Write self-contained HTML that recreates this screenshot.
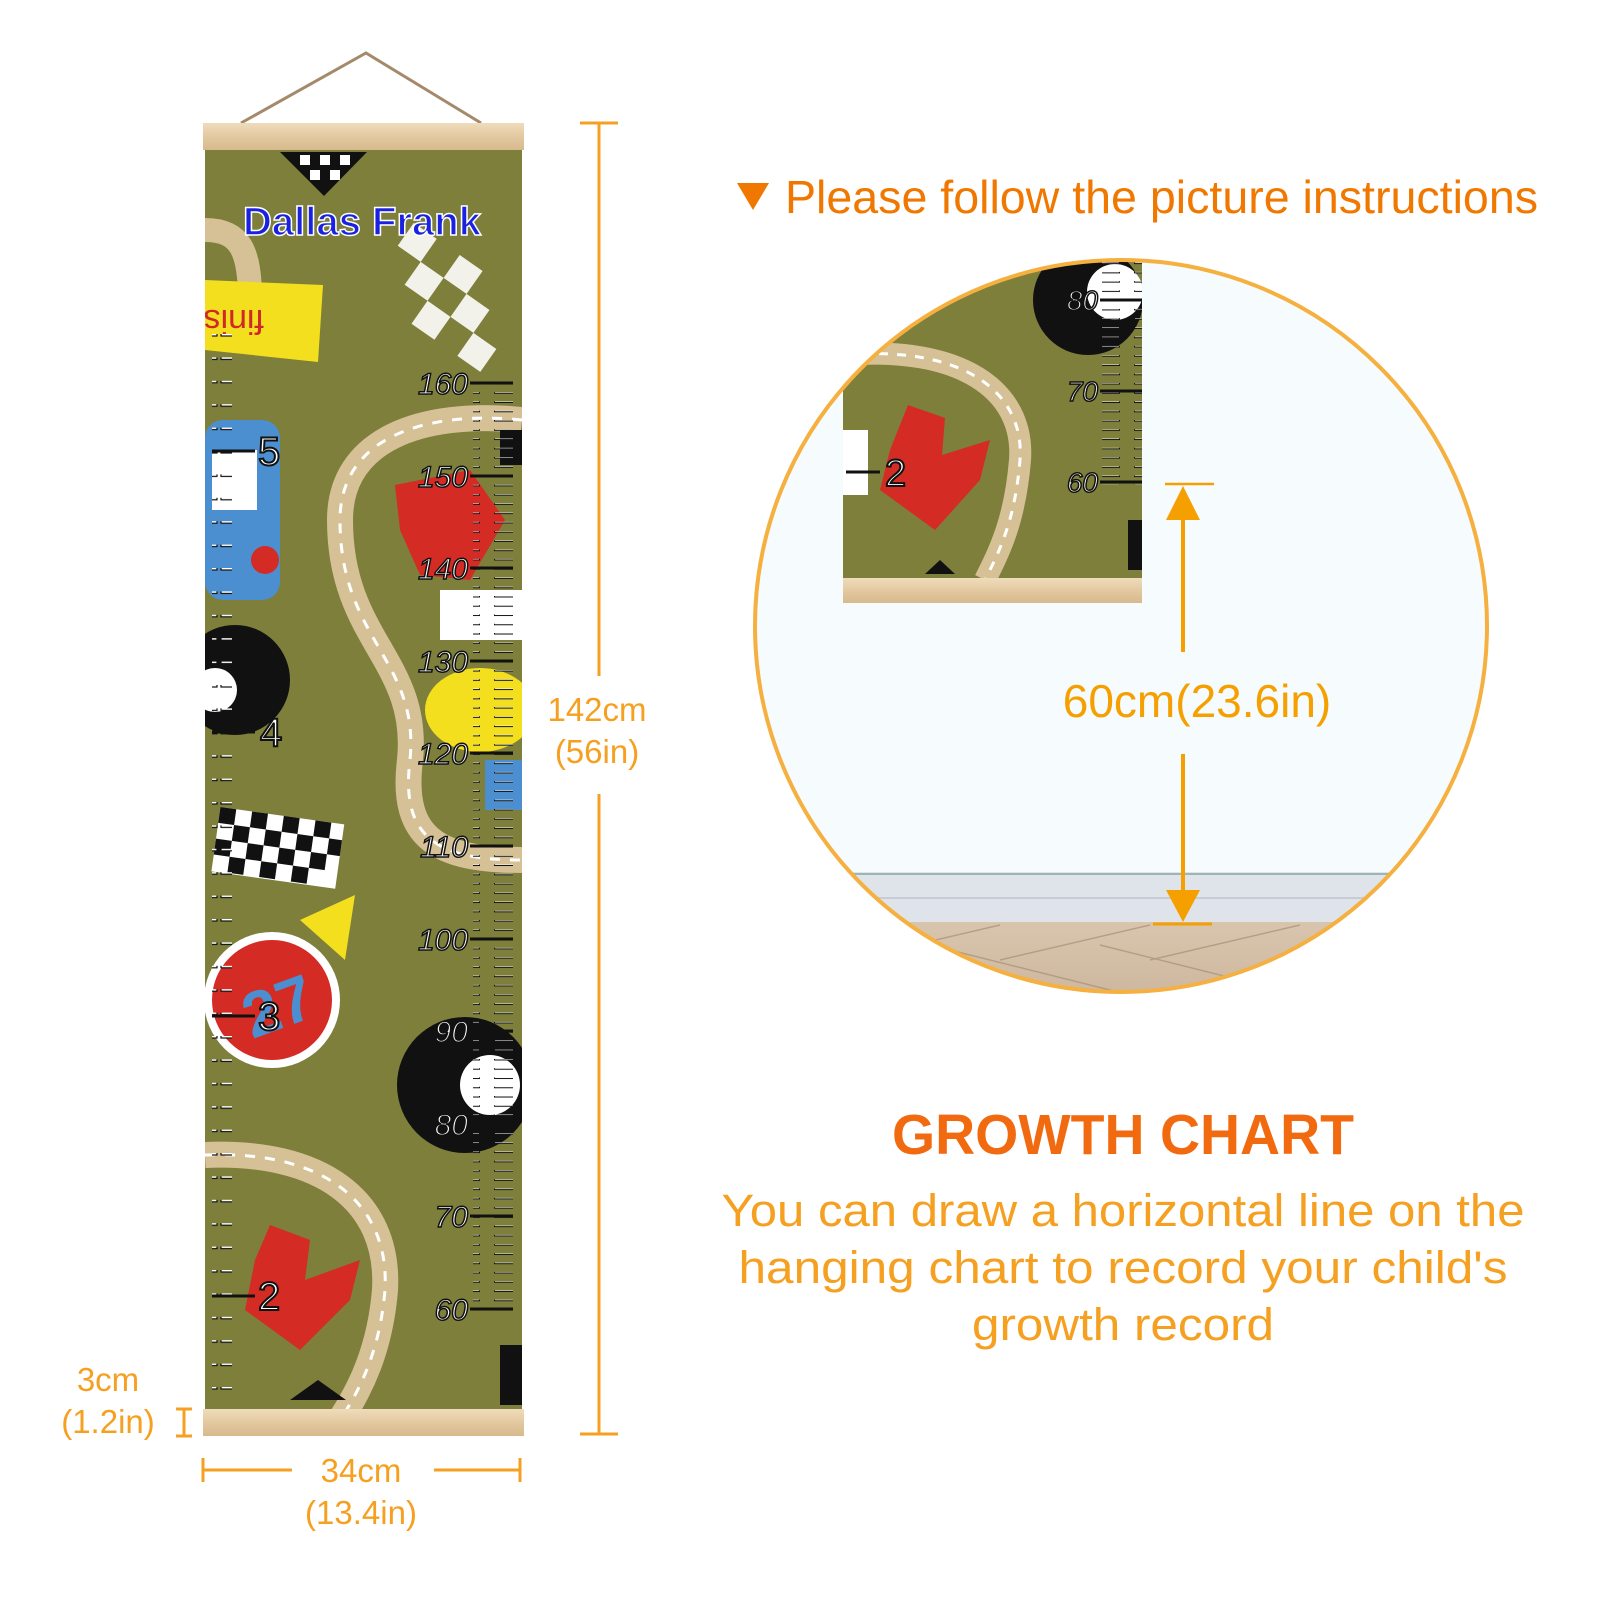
<!DOCTYPE html>
<html><head><meta charset="utf-8"><style>
html,body{margin:0;padding:0;background:#fff;}
svg{display:block;}
text{font-family:"Liberation Sans",sans-serif;}
</style></head><body>
<svg width="1600" height="1600" viewBox="0 0 1600 1600" xmlns="http://www.w3.org/2000/svg">
<defs>
 <pattern id="rt" x="0" y="383" width="40" height="9.26" patternUnits="userSpaceOnUse">
  <rect x="14" y="-1.5" width="26" height="3" fill="#111"/><rect x="15" y="-0.5" width="24" height="1" fill="#fff"/>
 </pattern>
 <pattern id="lt" x="0" y="451" width="20" height="23.4" patternUnits="userSpaceOnUse">
  <rect x="1" y="-2" width="16" height="4" fill="#fff" stroke="#111" stroke-width="1.2"/>
 </pattern>
 <linearGradient id="wood" x1="0" y1="0" x2="0" y2="1">
  <stop offset="0" stop-color="#efdcbc"/><stop offset="0.5" stop-color="#e3c9a0"/><stop offset="1" stop-color="#d7b98c"/>
 </linearGradient>
 <linearGradient id="floor" x1="0" y1="0" x2="0" y2="1">
  <stop offset="0" stop-color="#d9c5ae"/><stop offset="1" stop-color="#c9b299"/>
 </linearGradient>
 <clipPath id="cc"><circle cx="1121" cy="626" r="366"/></clipPath>
 <clipPath id="ch"><rect x="205" y="150" width="317" height="1259"/></clipPath>
 <clipPath id="th"><rect x="843" y="200" width="299" height="378"/></clipPath>
</defs>

<polyline points="241,123 366,53 481,123" fill="none" stroke="#a48a6a" stroke-width="3"/>

<rect x="205" y="150" width="317" height="1259" fill="#7d7f3b"/>
<g clip-path="url(#ch)">
 <path d="M522,420 C420,410 340,440 340,520 C340,640 420,660 410,760 C400,840 440,860 522,860" fill="none" stroke="#d6c196" stroke-width="26"/>
 <path d="M522,420 C420,410 340,440 340,520 C340,640 420,660 410,760 C400,840 440,860 522,860" fill="none" stroke="#fff" stroke-width="3" stroke-dasharray="10 10"/>
 <path d="M205,1155 C320,1150 390,1200 385,1290 C380,1350 360,1390 340,1420" fill="none" stroke="#d6c196" stroke-width="26"/>
 <path d="M205,1155 C320,1150 390,1200 385,1290 C380,1350 360,1390 340,1420" fill="none" stroke="#fff" stroke-width="3" stroke-dasharray="10 10"/>
 <path d="M205,230 C240,230 250,250 250,300" fill="none" stroke="#d6c196" stroke-width="24"/>
 <polygon points="205,280 323,285 318,362 205,350" fill="#f4df1e"/>
 <text x="260" y="330" font-size="34" fill="#d02828" transform="rotate(180 262 320)">finis</text>
 <polygon points="280,152 367,152 324,196" fill="#111"/>
 <g fill="#fff"><rect x="300" y="155" width="10" height="10"/><rect x="320" y="155" width="10" height="10"/><rect x="340" y="155" width="10" height="10"/><rect x="310" y="170" width="10" height="10"/><rect x="330" y="170" width="10" height="10"/></g>
 <g fill="#f2f2ea" transform="rotate(35 440 290)"><rect x="380" y="250" width="28" height="28"/><rect x="436" y="250" width="28" height="28"/><rect x="408" y="278" width="28" height="28"/><rect x="464" y="278" width="28" height="28"/><rect x="436" y="306" width="28" height="28"/><rect x="492" y="306" width="28" height="28"/></g>
 <polygon points="395,485 470,470 505,520 470,580 420,575 400,530" fill="#d42b25"/>
 <polygon points="270,1225 310,1240 305,1280 360,1260 350,1300 300,1350 245,1310 255,1260" fill="#d42b25"/>
 <rect x="205" y="420" width="75" height="180" rx="18" fill="#4c8fd0"/>
 <rect x="212" y="450" width="45" height="60" fill="#fff"/>
 <circle cx="265" cy="560" r="14" fill="#d42b25"/>
 <circle cx="235" cy="680" r="55" fill="#111"/>
 <circle cx="215" cy="690" r="22" fill="#fff"/>
 <circle cx="465" cy="1085" r="68" fill="#111"/>
 <circle cx="490" cy="1085" r="30" fill="#fff"/>
 <ellipse cx="480" cy="710" rx="55" ry="42" fill="#f4df1e"/>
 <rect x="440" y="590" width="82" height="50" fill="#fff"/>
 <rect x="485" y="760" width="37" height="50" fill="#4c8fd0"/>
 <g transform="rotate(8 275 850)">
  <rect x="215" y="815" width="125" height="65" fill="#fff"/>
  <g fill="#111">
   <rect x="215" y="815" width="16" height="16"/><rect x="247" y="815" width="16" height="16"/><rect x="279" y="815" width="16" height="16"/><rect x="311" y="815" width="16" height="16"/>
   <rect x="231" y="831" width="16" height="16"/><rect x="263" y="831" width="16" height="16"/><rect x="295" y="831" width="16" height="16"/><rect x="327" y="831" width="13" height="16"/>
   <rect x="215" y="847" width="16" height="16"/><rect x="247" y="847" width="16" height="16"/><rect x="279" y="847" width="16" height="16"/><rect x="311" y="847" width="16" height="16"/>
   <rect x="231" y="863" width="16" height="16"/><rect x="263" y="863" width="16" height="16"/><rect x="295" y="863" width="16" height="16"/>
  </g>
 </g>
 <path d="M300,920 L355,895 L345,960 Z" fill="#f4df1e"/>
 <circle cx="272" cy="1000" r="68" fill="#fff"/>
 <circle cx="272" cy="1000" r="60" fill="#d42b25"/>
 <text x="240" y="1030" font-size="64" font-weight="bold" fill="#4c8fd0" transform="rotate(-20 272 1000)">27</text>
 <polygon points="290,1400 318,1380 346,1400" fill="#111"/>
 <rect x="500" y="1345" width="22" height="60" fill="#111"/>
 <rect x="500" y="430" width="22" height="35" fill="#111"/>
 <rect x="473" y="378" width="40" height="935" fill="url(#rt)"/>
 <rect x="212" y="330" width="20" height="1070" fill="url(#lt)"/>
 <g stroke="#111" stroke-width="3">
  <line x1="470" y1="383" x2="513" y2="383"/><line x1="470" y1="476" x2="513" y2="476"/><line x1="470" y1="568" x2="513" y2="568"/><line x1="470" y1="661" x2="513" y2="661"/><line x1="470" y1="753" x2="513" y2="753"/><line x1="470" y1="846" x2="513" y2="846"/><line x1="470" y1="939" x2="513" y2="939"/><line x1="470" y1="1031" x2="513" y2="1031"/><line x1="470" y1="1124" x2="513" y2="1124"/><line x1="470" y1="1216" x2="513" y2="1216"/><line x1="470" y1="1309" x2="513" y2="1309"/>
  <line x1="212" y1="451" x2="255" y2="451"/><line x1="212" y1="732" x2="255" y2="732"/><line x1="212" y1="1016" x2="255" y2="1016"/><line x1="212" y1="1296" x2="255" y2="1296"/>
 </g>
 <g font-size="30" fill="#fff" stroke="#111" stroke-width="1.5" font-style="italic" text-anchor="end">
  <text x="468" y="394">160</text><text x="468" y="487">150</text><text x="468" y="579">140</text><text x="468" y="672">130</text><text x="468" y="764">120</text><text x="468" y="857">110</text><text x="468" y="950">100</text><text x="468" y="1042">90</text><text x="468" y="1135">80</text><text x="468" y="1227">70</text><text x="468" y="1320">60</text>
 </g>
 <g font-size="40" fill="#fff" stroke="#111" stroke-width="2">
  <text x="258" y="465">5</text><text x="260" y="746">4</text><text x="258" y="1030">3</text><text x="258" y="1310">2</text>
 </g>
 <text x="362" y="235" text-anchor="middle" font-size="40" font-weight="bold" fill="#1a22e0" stroke="#fff" stroke-width="1.5">Dallas Frank</text>
</g>
<rect x="203" y="123" width="321" height="27" fill="url(#wood)"/>
<rect x="203" y="1409" width="321" height="27" fill="url(#wood)"/>

<g stroke="#f5a020" stroke-width="3" fill="none">
 <line x1="599" y1="123" x2="599" y2="676"/><line x1="599" y1="794" x2="599" y2="1434"/>
 <line x1="580" y1="123" x2="618" y2="123"/><line x1="580" y1="1434" x2="618" y2="1434"/>
 <line x1="203" y1="1470" x2="292" y2="1470"/><line x1="434" y1="1470" x2="520" y2="1470"/>
 <line x1="203" y1="1458" x2="203" y2="1482"/><line x1="520" y1="1458" x2="520" y2="1482"/>
 <line x1="184" y1="1409" x2="184" y2="1436"/><line x1="176" y1="1409" x2="192" y2="1409"/><line x1="176" y1="1436" x2="192" y2="1436"/>
</g>
<g fill="#f5a020" font-size="33" text-anchor="middle">
 <text x="597" y="721">142cm</text><text x="597" y="763">(56in)</text>
 <text x="361" y="1482">34cm</text><text x="361" y="1524">(13.4in)</text>
 <text x="108" y="1391">3cm</text><text x="108" y="1433">(1.2in)</text>
</g>

<polygon points="737,183 769,183 753,210" fill="#f07800"/>
<text x="785" y="213" font-size="46" fill="#f07800" textLength="753" lengthAdjust="spacingAndGlyphs">Please follow the picture instructions</text>

<circle cx="1121" cy="626" r="366" fill="#f6fbfd"/>
<g clip-path="url(#cc)">
 <rect x="700" y="872" width="900" height="50" fill="#dfe3ea"/>
 <line x1="700" y1="874" x2="1600" y2="874" stroke="#9fb4b4" stroke-width="2"/>
 <line x1="700" y1="898" x2="1600" y2="898" stroke="#c8ccd4" stroke-width="2"/>
 <rect x="700" y="922" width="900" height="100" fill="url(#floor)"/>
 <g stroke="#a89078" stroke-width="1.5" opacity="0.7"><line x1="850" y1="960" x2="1000" y2="925"/><line x1="1000" y1="960" x2="1150" y2="925"/><line x1="1150" y1="960" x2="1300" y2="925"/><line x1="950" y1="950" x2="1150" y2="1000"/><line x1="1100" y1="945" x2="1300" y2="995"/></g>
 <g clip-path="url(#th)">
  <rect x="843" y="200" width="299" height="378" fill="#7d7f3b"/>
  <path d="M843,355 C960,345 1025,390 1020,460 C1015,520 1000,550 985,580" fill="none" stroke="#d6c196" stroke-width="22"/>
  <path d="M843,355 C960,345 1025,390 1020,460 C1015,520 1000,550 985,580" fill="none" stroke="#fff" stroke-width="3" stroke-dasharray="9 9"/>
  <polygon points="908,405 945,418 942,455 990,440 980,480 935,530 880,490 890,450" fill="#d42b25"/>
  <rect x="843" y="430" width="25" height="65" fill="#fff"/>
  <circle cx="1088" cy="300" r="55" fill="#111"/>
  <circle cx="1115" cy="292" r="28" fill="#fff"/>
  <polygon points="925,574 940,560 955,574" fill="#111"/>
  <rect x="1128" y="520" width="14" height="50" fill="#111"/>
  <rect x="1102" y="255" width="40" height="230" fill="url(#rt)"/>
  <g stroke="#111" stroke-width="3"><line x1="1100" y1="300" x2="1142" y2="300"/><line x1="1100" y1="391" x2="1142" y2="391"/><line x1="1100" y1="482" x2="1142" y2="482"/><line x1="846" y1="472" x2="880" y2="472"/></g>
  <g font-size="28" fill="#fff" stroke="#111" stroke-width="1.5" font-style="italic" text-anchor="end"><text x="1098" y="310">80</text><text x="1098" y="401">70</text><text x="1098" y="492">60</text></g>
  <text x="885" y="486" font-size="38" fill="#fff" stroke="#111" stroke-width="2">2</text>
 </g>
 <rect x="843" y="578" width="299" height="25" fill="url(#wood)"/>
</g>
<circle cx="1121" cy="626" r="366" fill="none" stroke="#f5b040" stroke-width="4"/>

<g stroke="#f5a000" stroke-width="4">
 <line x1="1165" y1="484" x2="1214" y2="484" stroke-width="2.5"/>
 <line x1="1183" y1="515" x2="1183" y2="652"/>
 <line x1="1183" y1="754" x2="1183" y2="895"/>
 <line x1="1153" y1="924" x2="1212" y2="924" stroke-width="3"/>
</g>
<polygon points="1166,520 1200,520 1183,486" fill="#f5a000"/>
<polygon points="1166,890 1200,890 1183,922" fill="#f5a000"/>
<text x="1197" y="717" text-anchor="middle" font-size="46" fill="#f5a000">60cm(23.6in)</text>

<text x="1123" y="1154" text-anchor="middle" font-size="57" font-weight="bold" fill="#f26a10" textLength="462" lengthAdjust="spacingAndGlyphs">GROWTH CHART</text>
<g font-size="45" fill="#f5a020" text-anchor="middle">
 <text x="1123" y="1226" textLength="803" lengthAdjust="spacingAndGlyphs">You can draw a horizontal line on the</text>
 <text x="1123" y="1283" textLength="769" lengthAdjust="spacingAndGlyphs">hanging chart to record your child's</text>
 <text x="1123" y="1340" textLength="302" lengthAdjust="spacingAndGlyphs">growth record</text>
</g>
</svg>
</body></html>
